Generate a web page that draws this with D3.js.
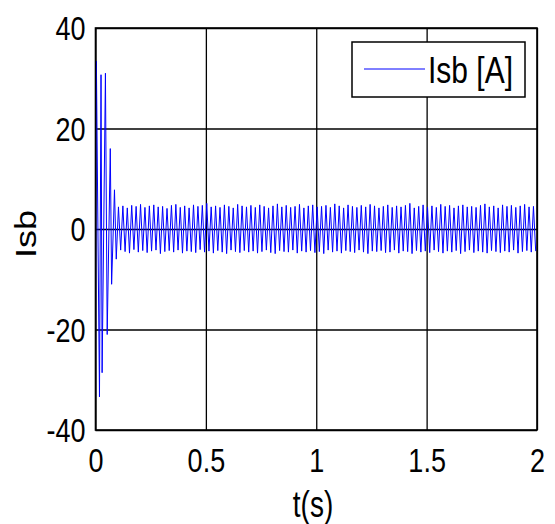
<!DOCTYPE html>
<html>
<head>
<meta charset="utf-8">
<script src="https://cdn.jsdelivr.net/npm/d3@7"></script>
<style>
  html, body { margin: 0; padding: 0; background: #fff; }
  svg { display: block; }
  text { font-family: "Liberation Sans", Arial, sans-serif; fill: #000; }
</style>
</head>
<body>
<svg id="chart" width="555" height="524"></svg>
<script>
// Start-up transient of the stator current (time in s, current in A)
const transientTime = [0, 0.004, 0.018, 0.025, 0.030, 0.045, 0.053, 0.067, 0.073, 0.086, 0.094];
const transientIsb  = [-25, 33.4, -33.4, 30.7, -28.6, 31, -21, 16, -11, 7.8, -6];

// Steady-state current extremes, one every half period of the 50 Hz supply
const steadyStart = 0.104;
const steadyStep = 0.01;
const steadyIsb = [
  4.4,-4.2, 4.6,-4.5, 4.2,-4.8, 4.7,-4.1, 4.5,-4.6, 4.9,-4.3, 4.3,-4.7, 4.6,-4.4, 4.8,-4.2, 4.4,-4.9,
  4.5,-4.5, 4.1,-4.3, 4.7,-4.6, 4.9,-4.2, 4.3,-4.8, 4.6,-4.4, 4.2,-4.5, 4.8,-4.7, 4.5,-4.1, 4.7,-4.6,
  5.1,-4.4, 4.4,-4.8, 4.6,-4.3, 4.3,-4.6, 4.8,-4.9, 4.5,-4.2, 4.2,-4.5, 4.9,-4.7, 4.6,-4.3, 4.4,-4.6,
  4.7,-4.4, 4.3,-4.8, 4.8,-4.5, 4.5,-4.2, 4.2,-4.7, 4.6,-4.9, 5.0,-4.3, 4.4,-4.5, 4.7,-4.6, 4.3,-4.2,
  4.5,-4.8, 4.9,-4.4, 4.2,-4.6, 4.6,-4.3, 4.8,-4.7, 4.4,-4.5, 4.5,-4.9, 4.7,-4.2, 4.3,-4.6, 5.0,-4.4,
  4.6,-4.8, 4.2,-4.3, 4.8,-4.5, 4.5,-4.7, 4.3,-4.2, 4.7,-4.6, 4.4,-4.9, 4.9,-4.4, 4.6,-4.5, 4.2,-4.3,
  4.5,-4.7, 4.8,-4.6, 4.3,-4.2, 4.6,-4.8, 4.4,-4.4, 4.7,-4.5, 5.1,-4.9, 4.2,-4.3, 4.5,-4.6, 4.8,-4.4,
  4.4,-4.7, 4.6,-4.2, 4.3,-4.5, 4.9,-4.8, 4.5,-4.4, 4.7,-4.6, 4.2,-4.3, 4.6,-4.9, 4.8,-4.5, 4.4,-4.2,
  4.5,-4.7, 4.3,-4.4, 4.7,-4.6, 5.0,-4.8, 4.4,-4.3, 4.6,-4.5, 4.2,-4.7, 4.8,-4.4, 4.5,-4.6, 4.7,-4.2,
  4.3,-4.8, 4.6,-4.5, 4.9,-4.3, 4.4,-4.6, 4.5,-4.4
];

const xTicks = [0, 0.5, 1, 1.5, 2];
const yTicks = [-40, -20, 0, 20, 40];
const xLabel = "t(s)";
const yLabel = "Isb";
const seriesName = "Isb [A]";

const margin = { left: 95.5, top: 28, right: 18, bottom: 94 };
const W = 555, H = 524;
const iw = W - margin.left - margin.right;
const ih = H - margin.top - margin.bottom;
const stretch = 1.2; // tall, narrow lettering

const x = d3.scaleLinear().domain([0, 2]).range([0, iw]);
const y = d3.scaleLinear().domain([-40, 40]).range([ih, 0]);

const points = transientTime.map((t, i) => [t, transientIsb[i]])
  .concat(steadyIsb.map((v, i) => [steadyStart + i * steadyStep, v]));

const svg = d3.select("#chart");
const g = svg.append("g").attr("transform", `translate(${margin.left},${margin.top})`);

// Grid lines through the axis generators; labels keep a plain hyphen for negatives
const plain = d => String(d);
const xAxis = g.append("g")
  .attr("transform", `translate(0,${ih})`)
  .call(d3.axisBottom(x).tickValues(xTicks).tickSize(-ih).tickSizeOuter(0).tickFormat(plain));
const yAxis = g.append("g")
  .call(d3.axisLeft(y).tickValues(yTicks).tickSize(-iw).tickSizeOuter(0).tickFormat(plain));

[xAxis, yAxis].forEach(a => {
  a.select(".domain").remove();
  a.selectAll(".tick line").attr("stroke", "#000").attr("stroke-width", 1.3);
  a.selectAll(".tick text").attr("font-size", 27);
});
xAxis.selectAll(".tick text")
  .attr("y", 35).attr("dy", null)
  .attr("transform", `scale(1,${stretch})`);
yAxis.selectAll(".tick text")
  .attr("x", -10).attr("dy", "0.36em")
  .attr("transform", `scale(1,${stretch})`);

// Current trace
g.append("path")
  .datum(points)
  .attr("fill", "none")
  .attr("stroke", "#0000ff")
  .attr("stroke-width", 1)
  .attr("d", d3.line().x(d => x(d[0])).y(d => y(d[1])));

// Plot frame
g.append("rect")
  .attr("width", iw).attr("height", ih)
  .attr("fill", "none").attr("stroke", "#000").attr("stroke-width", 1.6);

// Axis titles
svg.append("text")
  .attr("transform", `translate(313,517) scale(1,1.3)`)
  .attr("text-anchor", "middle")
  .attr("font-size", 28)
  .text(xLabel);
svg.append("text")
  .attr("transform", `translate(36,234) rotate(-90) scale(${stretch},1)`)
  .attr("text-anchor", "middle")
  .attr("font-size", 30)
  .text(yLabel);

// Legend
const lg = svg.append("g").attr("transform", "translate(352,42)");
lg.append("rect")
  .attr("width", 173).attr("height", 55)
  .attr("fill", "#fff").attr("stroke", "#000").attr("stroke-width", 1.5);
lg.append("line")
  .attr("x1", 12).attr("x2", 73).attr("y1", 27).attr("y2", 27)
  .attr("stroke", "#0000ff").attr("stroke-width", 1);
lg.append("text")
  .attr("transform", `translate(76,41) scale(1,${stretch})`)
  .attr("font-size", 30)
  .text(seriesName);
</script>
</body>
</html>
